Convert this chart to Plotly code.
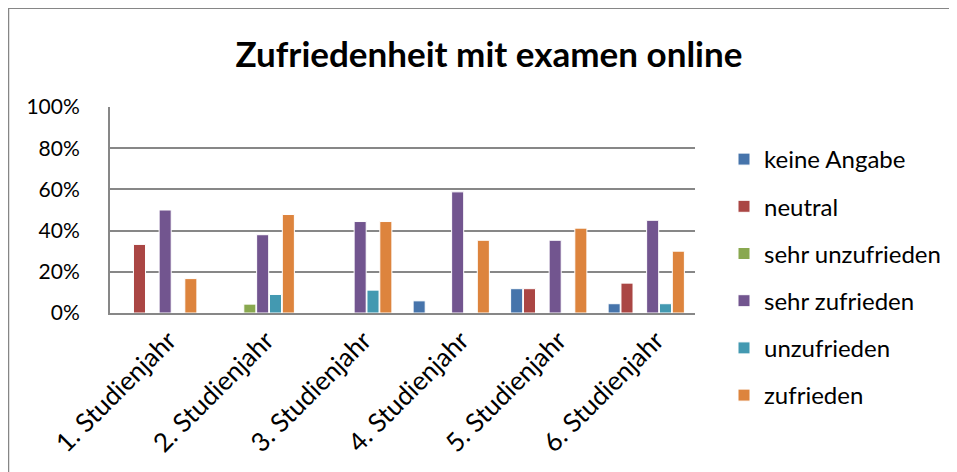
import plotly.graph_objects as go

categories = ["1. Studienjahr", "2. Studienjahr", "3. Studienjahr",
              "4. Studienjahr", "5. Studienjahr", "6. Studienjahr"]

keine_angabe = [0, 0, 0, 0.059, 0.118, 0.045]
neutral = [0.333, 0, 0, 0, 0.118, 0.145]
sehr_unzufrieden = [0, 0.043, 0, 0, 0, 0]
sehr_zufrieden = [0.50, 0.38, 0.444, 0.588, 0.353, 0.45]
unzufrieden = [0, 0.09, 0.111, 0, 0, 0.045]
zufrieden = [0.167, 0.478, 0.444, 0.353, 0.412, 0.30]

series = [
    ("keine Angabe", keine_angabe, "#4674AB"),
    ("neutral", neutral, "#AA4644"),
    ("sehr unzufrieden", sehr_unzufrieden, "#89A84F"),
    ("sehr zufrieden", sehr_zufrieden, "#72558F"),
    ("unzufrieden", unzufrieden, "#4399B1"),
    ("zufrieden", zufrieden, "#DD843D"),
]

FONT = "Lato, Open Sans, sans-serif"

fig = go.Figure()
for name, vals, color in series:
    fig.add_trace(go.Bar(
        x=categories, y=vals, name=name, legendgroup=name,
        marker=dict(color=color, line=dict(color="white", width=1)),
    ))

# page places the figure at an 8px offset; work in window pixels
OFF = 8
W, H = 957 - OFF, 472 - OFF
L, R, T, B = 110 - OFF, 957 - 695, 107 - OFF, 472 - 313
pw, ph = W - L - R, H - T - B


def px_x(x):
    return (x - OFF - L) / pw


def px_y(y):
    return (H - B - (y - OFF)) / ph


grid = "#878787"
fig.update_layout(
    width=W, height=H,
    margin=dict(l=L, r=R, t=T, b=B, autoexpand=False),
    paper_bgcolor="white", plot_bgcolor="white",
    font=dict(family=FONT, size=21, color="black"),
    title=dict(text="<b>Zufriedenheit mit examen online</b>",
               x=px_x(489), xanchor="center", xref="paper",
               y=1 - (55 - OFF) / H, yanchor="middle",
               font=dict(family=FONT, size=35, color="black")),
    barmode="group", bargap=0.21, bargroupgap=0.06,
    legend=dict(x=px_x(724), y=px_y(137), xanchor="left", yanchor="top",
                xref="paper", yref="paper", maxheight=400,
                traceorder="grouped", tracegroupgap=13,
                font=dict(family=FONT, size=24, color="black"),
                bgcolor="rgba(0,0,0,0)"),
    xaxis=dict(showgrid=False, showline=True, linecolor=grid, linewidth=2,
               tickangle=-45, ticks="", ticklabelshift=10,
               tickfont=dict(family=FONT, size=26)),
    yaxis=dict(range=[0, 1], dtick=0.2, tickformat=".0%",
               showgrid=True, gridcolor=grid, gridwidth=1.6,
               showline=True, linecolor=grid, linewidth=2,
               zeroline=False, ticks="", ticklabelstandoff=24,
               tickfont=dict(family=FONT, size=21)),
    shapes=[
        dict(type="line", xref="paper", yref="paper",
             x0=px_x(8), x1=px_x(970), y0=px_y(8), y1=px_y(8),
             line=dict(color="#868686", width=2)),
        dict(type="line", xref="paper", yref="paper",
             x0=px_x(8), x1=px_x(8), y0=px_y(8), y1=px_y(480),
             line=dict(color="#868686", width=2.5)),
    ],
)

fig.write_html("out.html")
